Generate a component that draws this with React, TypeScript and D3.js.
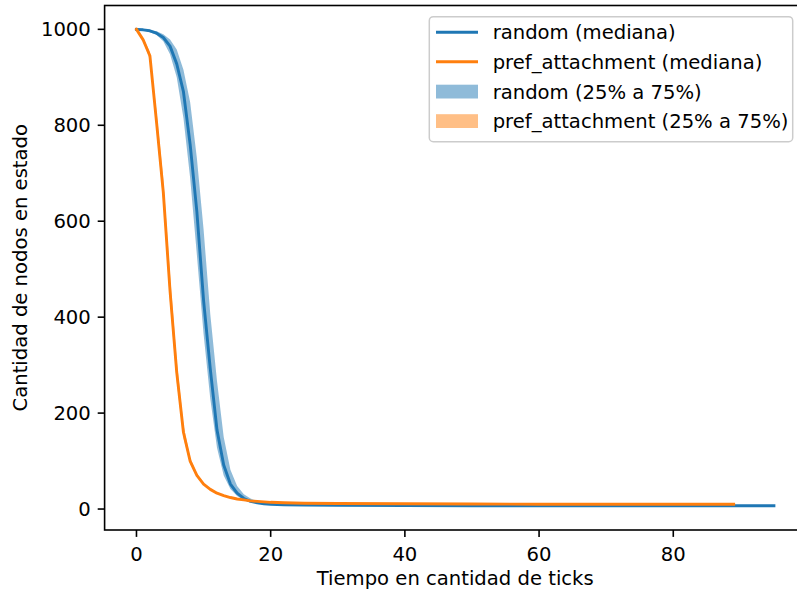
import React from "react";
import * as d3 from "d3";

// ---- data ----
const randomTicks = [0,1,2,3,4,5,6,7,8,9,10,11,12,13,14,15,16,17,18,19,20,22,25,30,40,50,60,70,80,90,95];
const randomMedian = [1000,999,997,992,983,965,928,870,760,620,435,292,165,92,52,33,22,16,13,11,10,9,8.5,8,7.5,7,7,7,7,7,7];
const randomQ75 = [1000,1000,998,996,990,979,958,916,848,732,583,406,267,150,82,48,31,22,16,13,11.5,10,9.5,9,8.5,8,8,8,8,8,8];
const randomQ25 = [1000,998,994,988,975,948,900,815,690,530,365,230,128,70,42,27,19,14,11.5,10,9,8,7.5,7,6.5,6,6,6,6,6,6];

const prefTicks = [0,1,2,3,4,5,6,7,8,9,10,11,12,13,14,15,16,17,18,19,20,22,25,30,40,50,60,70,80,89];
const prefMedian = [1000,978,945,805,660,455,285,160,100,70,52,41,33,28,24,21,19,17,16,15,14,13,12,11.5,11,10.5,10,10,10,10];
const prefQ75 = [1000,982,953,828,688,490,310,176,107,74,55,43,35,29,25,22,19.5,17.5,16.5,15.5,14.5,13.5,12.5,12,11.5,11,10.5,10.5,10.5,10.5];
const prefQ25 = [1000,975,936,788,640,430,265,148,94,67,50,39,32,27,23,20.5,18.5,16.5,15.5,14.5,13.5,12.5,11.5,11,10.5,10,9.5,9.5,9.5,9.5];

const xTicks = [0, 20, 40, 60, 80];
const yTicks = [0, 200, 400, 600, 800, 1000];

const legendLabels = [
  "random (mediana)",
  "pref_attachment (mediana)",
  "random (25% a 75%)",
  "pref_attachment (25% a 75%)",
];

const xLabel = "Tiempo en cantidad de ticks";
const yLabel = "Cantidad de nodos en estado";

const BLUE = "#1f77b4";
const ORANGE = "#ff7f0e";

export default function App() {
  const W = 797, H = 594;
  const left = 104.6, right = 805.8, top = 5.5, bottom = 530;
  const x = d3.scaleLinear().domain([-4.75, 99.75]).range([left, right]);
  const y = d3.scaleLinear().domain([-43.7, 1049.7]).range([bottom, top]);

  const fs = 19.6;
  const font = "DejaVu Sans, sans-serif";

  type P = { t: number; m: number; lo: number; hi: number };
  const rnd: P[] = randomTicks.map((t, i) => ({ t, m: randomMedian[i], lo: randomQ25[i], hi: randomQ75[i] }));
  const prf: P[] = prefTicks.map((t, i) => ({ t, m: prefMedian[i], lo: prefQ25[i], hi: prefQ75[i] }));

  const line = d3.line<P>().x(d => x(d.t)).y(d => y(d.m));
  const area = d3.area<P>().x(d => x(d.t)).y0(d => y(d.lo)).y1(d => y(d.hi));

  const tickLen = 6.9;
  const axisW = 1.6;

  const legX = 429.3, legY = 16.7, legW = 363.4, legH = 125;
  const rowY = [32.3, 61.8, 91.6, 121.1];

  return (
    <svg width={W} height={H} style={{ position: "absolute", left: 0, top: 0, background: "#fff" }} fontFamily={font}>
      <defs>
        <clipPath id="plot">
          <rect x={left} y={top} width={right - left} height={bottom - top} />
        </clipPath>
      </defs>
      <rect x={0} y={0} width={W} height={H} fill="#fff" />
      <g clipPath="url(#plot)">
        <path d={area(rnd) || ""} fill={BLUE} fillOpacity={0.5} stroke="none" />
        <path d={area(prf) || ""} fill={ORANGE} fillOpacity={0.5} stroke="none" />
        <path d={line(rnd) || ""} fill="none" stroke={BLUE} strokeWidth={2.9} strokeLinejoin="round" strokeLinecap="square" />
        <path d={line(prf) || ""} fill="none" stroke={ORANGE} strokeWidth={2.9} strokeLinejoin="round" strokeLinecap="square" />
      </g>
      {/* spines */}
      <rect x={left} y={top} width={right - left} height={bottom - top} fill="none" stroke="#000" strokeWidth={axisW} />
      {/* x ticks */}
      {xTicks.map(t => (
        <g key={"x" + t}>
          <line x1={x(t)} x2={x(t)} y1={bottom} y2={bottom + tickLen} stroke="#000" strokeWidth={axisW} />
          <text x={x(t)} y={560.5} textAnchor="middle" fontSize={fs} fill="#000">{t}</text>
        </g>
      ))}
      {/* y ticks */}
      {yTicks.map(t => (
        <g key={"y" + t}>
          <line x1={left} x2={left - tickLen} y1={y(t)} y2={y(t)} stroke="#000" strokeWidth={axisW} />
          <text x={left - tickLen - 6.9} y={y(t) + 7.1} textAnchor="end" fontSize={fs} fill="#000">{t}</text>
        </g>
      ))}
      <text x={(left + right) / 2} y={585} textAnchor="middle" fontSize={fs} fill="#000">{xLabel}</text>
      <text transform={`translate(27, ${(top + bottom) / 2}) rotate(-90)`} textAnchor="middle" fontSize={fs} fill="#000">{yLabel}</text>
      {/* legend */}
      <rect x={legX} y={legY} width={legW} height={legH} rx={4} ry={4} fill="#fff" fillOpacity={0.8} stroke="#cccccc" strokeWidth={1.5} />
      <line x1={436} x2={478} y1={rowY[0]} y2={rowY[0]} stroke={BLUE} strokeWidth={2.9} />
      <line x1={436} x2={478} y1={rowY[1]} y2={rowY[1]} stroke={ORANGE} strokeWidth={2.9} />
      <rect x={436} y={rowY[2] - 6.9} width={42} height={13.8} fill={BLUE} fillOpacity={0.5} />
      <rect x={436} y={rowY[3] - 6.9} width={42} height={13.8} fill={ORANGE} fillOpacity={0.5} />
      {legendLabels.map((l, i) => (
        <text key={l} x={492.7} y={rowY[i] + 7.1} fontSize={fs} fill="#000">{l}</text>
      ))}
    </svg>
  );
}
